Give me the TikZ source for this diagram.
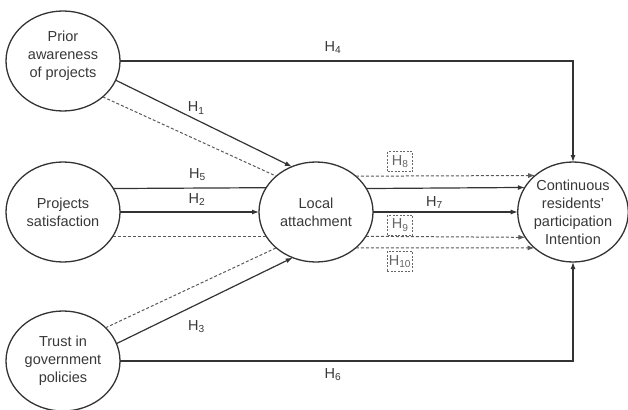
\documentclass[tikz,border=0pt]{standalone}
\usepackage{fontspec}
\setmainfont{Liberation Sans}
\usetikzlibrary{shapes.geometric,arrows.meta}
\begin{document}
\begin{tikzpicture}[x=1pt,y=-1pt,
    every node/.style={font=\fontsize{14.5}{18}\selectfont, text=black!78},
    var/.style={ellipse, draw=black!80, line width=1.3pt, minimum width=114pt, minimum height=100pt, inner sep=0pt, outer sep=0pt, align=center},
    link/.style={draw=black!80, line width=1.2pt},
    arr/.style={link, -{Latex[length=7pt,width=5pt]}},
    dlink/.style={draw=black!65, line width=1pt, dash pattern=on 3pt off 2pt},
    darr/.style={dlink, -{Latex[length=7pt,width=5pt]}},
    hyp/.style={inner sep=1pt},
    hbox/.style={draw=black!60, line width=0.8pt, dash pattern=on 2pt off 1.5pt, inner sep=1pt, minimum width=25pt, minimum height=20pt, text=black!60}]
  \useasboundingbox (0,0) rectangle (628,409);
  \node[var] (pa) at (63,61) {Prior\\awareness\\of projects\\[-4pt]};
  \node[var] (sa) at (63,212) {Projects\\satisfaction};
  \node[var] (tg) at (63,361) {Trust in\\government\\policies};
  \node[var] (la) at (316,212) {Local\\attachment};
  \node[var, minimum width=108pt] (ci) at (573,212) {Continuous\\residents'\\participation\\Intention};

  \draw[arr] (pa.east) -| node[hyp, above=6pt, pos=.235] (h4) {H\textsubscript{4}} (ci.north);
  \draw[arr] (tg.east) -| node[hyp, below=6pt, pos=.235] (h6) {H\textsubscript{6}} (ci.south);

  \draw[arr] (pa.-20) -- node[hyp, above=4pt, pos=.457] (h1) {H\textsubscript{1}} (la.118);
  \draw[dlink] (pa.-42) -- (la.138);
  \draw[link] (sa.25.6) -- node[hyp, above=6pt, pos=.55] (h5) {H\textsubscript{5}} (la.154.4);
  \draw[arr] (sa.east) -- node[hyp, above=5pt, pos=.554] (h2) {H\textsubscript{2}} (la.west);
  \draw[dlink] (sa.-26.8) -- (la.206.8);
  \draw[arr] (tg.18) -- node[hyp, below=14pt, pos=.454] (h3) {H\textsubscript{3}} (la.243);
  \draw[dlink] (tg.38.5) -- (la.222);

  \draw[darr] (la.42.3) -- node[hbox, above=4pt, pos=.247] (h8) {H\textsubscript{8}} (ci.136.2);
  \draw[arr] (la.25.6) -- (ci.153.1);
  \draw[arr] (la.east) -- node[hyp, above=2pt, pos=.425] (h7) {H\textsubscript{7}} (ci.west);
  \draw[darr] (la.-26.8) -- node[hbox, above=1pt, pos=.215] (h9) {H\textsubscript{9}} (ci.208.1);
  \draw[darr] (la.-42.3) -- node[hbox, below=3pt, pos=.247] (h10) {H\textsubscript{10}} (ci.223.8);
\end{tikzpicture}
\end{document}
